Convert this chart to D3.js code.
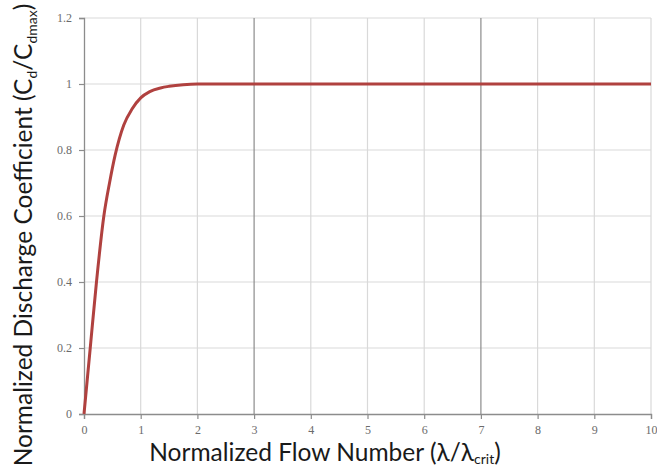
<!DOCTYPE html>
<html>
<head>
<meta charset="utf-8">
<script src="https://cdn.jsdelivr.net/npm/d3@7"></script>
<style>
  html, body { margin: 0; padding: 0; background: #fff; }
  svg { display: block; }
</style>
</head>
<body>
<svg id="chart" width="657" height="467"></svg>
<script>
// Normalized flow number (λ/λcrit) and the normalized discharge coefficient (Cd/Cdmax)
const flowNumber = [0, 0.11, 0.22, 0.35, 0.45, 0.55, 0.7, 0.85, 1.0, 1.16, 1.35, 1.5, 1.75, 2.0, 3, 4, 5, 6, 7, 8, 9, 10];
const dischargeCoeff = [0, 0.2, 0.4, 0.6, 0.70, 0.785, 0.875, 0.925, 0.958, 0.977, 0.988, 0.993, 0.998, 1.0, 1, 1, 1, 1, 1, 1, 1, 1];

const xTicks = [0, 1, 2, 3, 4, 5, 6, 7, 8, 9, 10];
const yTicks = [0, 0.2, 0.4, 0.6, 0.8, 1, 1.2];
const yTickLabels = ["0", "0.2", "0.4", "0.6", "0.8", "1", "1.2"];
const emphasisX = [3, 7];

const svg = d3.select("#chart");
const margin = { left: 84, right: 6, top: 18, bottom: 53 };
const W = 657, H = 467;

const x = d3.scaleLinear().domain([0, 10]).range([margin.left, W - margin.right]);
const y = d3.scaleLinear().domain([0, 1.2]).range([H - margin.bottom, margin.top]);

// horizontal gridlines
svg.append("g").selectAll("line").data(yTicks.filter(d => d > 0)).join("line")
  .attr("x1", x(0)).attr("x2", x(10))
  .attr("y1", d => y(d)).attr("y2", d => y(d))
  .attr("stroke", "#d9d9d9").attr("stroke-width", 1.2);

// vertical gridlines
svg.append("g").selectAll("line").data(xTicks.filter(d => d > 0)).join("line")
  .attr("x1", d => x(d)).attr("x2", d => x(d))
  .attr("y1", y(0)).attr("y2", y(1.2))
  .attr("stroke", d => emphasisX.includes(d) ? "#8c8c8c" : "#d9d9d9")
  .attr("stroke-width", 1.2);

// axes
const yAxis = d3.axisLeft(y).tickValues(yTicks).tickFormat((d, i) => yTickLabels[i]).tickSize(5).tickPadding(7);
const xAxis = d3.axisBottom(x).tickValues(xTicks).tickFormat(d3.format("d")).tickSize(5).tickPadding(6);

const gy = svg.append("g").attr("transform", `translate(${x(0)},0)`).call(yAxis);
const gx = svg.append("g").attr("transform", `translate(0,${y(0)})`).call(xAxis);
[gx, gy].forEach(g => {
  g.select(".domain").attr("stroke", "#8c8c8c").attr("stroke-width", 1.3);
  g.selectAll(".tick line").attr("stroke", "#8c8c8c").attr("stroke-width", 1.2);
  g.selectAll(".tick text")
    .attr("fill", "#6b6b6b")
    .style("font-family", "'Liberation Serif', serif")
    .style("font-size", "12px");
});

// curve
const line = d3.line()
  .x((d, i) => x(flowNumber[i]))
  .y((d, i) => y(dischargeCoeff[i]))
  .curve(d3.curveMonotoneX);

svg.append("path")
  .datum(dischargeCoeff)
  .attr("d", line)
  .attr("fill", "none")
  .attr("stroke", "#b0413f")
  .attr("stroke-width", 3)
  .attr("stroke-linejoin", "round");

// axis titles
const titleFont = "Lato, 'Open Sans', sans-serif";

const xt = svg.append("text")
  .attr("x", 325).attr("y", 461)
  .attr("text-anchor", "middle")
  .attr("fill", "#1a1a1a")
  .style("font-family", titleFont)
  .style("font-size", "24.5px");
xt.append("tspan").text("Normalized Flow Number (λ/λ");
xt.append("tspan").text("crit").style("font-size", "14px").attr("dy", 3);
xt.append("tspan").text(")").attr("dy", -3);

const yt = svg.append("text")
  .attr("transform", "translate(32,235) rotate(-90)")
  .attr("text-anchor", "middle")
  .attr("fill", "#1a1a1a")
  .style("font-family", titleFont)
  .style("font-size", "24.5px");
yt.append("tspan").text("Normalized Discharge Coefficient (C");
yt.append("tspan").text("d").style("font-size", "14px").attr("dy", 5);
yt.append("tspan").text("/C").attr("dy", -5);
yt.append("tspan").text("dmax").style("font-size", "14px").attr("dy", 5);
yt.append("tspan").text(")").attr("dy", -5);
</script>
</body>
</html>
